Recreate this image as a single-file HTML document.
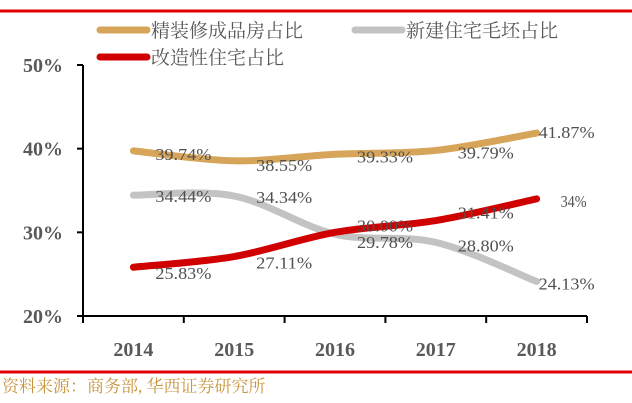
<!DOCTYPE html>
<html><head><meta charset="utf-8"><style>
body{margin:0;background:#fff;}
svg{display:block;font-family:"Liberation Serif","Noto Serif CJK SC",serif;}
</style></head><body>
<svg id="chart" width="632" height="403">
<line x1="0" y1="11" x2="632" y2="11" stroke="#E00000" stroke-width="3"/>
<line x1="0" y1="372" x2="632" y2="372" stroke="#E00000" stroke-width="3"/>
<g>
<line x1="100" y1="30" x2="147" y2="30" stroke="#D6A55A" stroke-width="7" stroke-linecap="round"/>
<text x="151" y="37" font-size="19" fill="#595959">精装修成品房占比</text>
<line x1="355" y1="30" x2="402" y2="30" stroke="#C3C3C3" stroke-width="7" stroke-linecap="round"/>
<text x="406" y="37" font-size="19" fill="#595959">新建住宅毛坯占比</text>
<line x1="100" y1="57" x2="147" y2="57" stroke="#D00000" stroke-width="7" stroke-linecap="round"/>
<text x="151" y="64" font-size="19" fill="#595959">改造性住宅占比</text>
</g>
<g id="axes"></g>
<g id="series"></g>
<g id="labels"></g>
<text x="2" y="392" font-size="17" fill="#C8963E">资料来源：商务部, 华西证券研究所</text>
</svg>
<script>
const categories=["2014","2015","2016","2017","2018"];
const finishedShare=[39.74,38.55,39.33,39.79,41.87];
const roughShare=[34.44,34.34,29.78,28.80,24.13];
const renovationShare=[25.83,27.11,30.00,31.41,34.00];
const finishedLabels=["39.74%","38.55%","39.33%","39.79%","41.87%"];
const roughLabels=["34.44%","34.34%","29.78%","28.80%","24.13%"];
const renovationLabels=["25.83%","27.11%","30.00%","31.41%","34%"];
const yTicks=[20,30,40,50];
const NS="http://www.w3.org/2000/svg";
const x0=83,x1=587,yMin=20,yMax=50,yb=316,yt=65;
const band=(x1-x0)/categories.length;
const xs=i=>x0+band*(i+0.5);
const ys=v=>yb-(v-yMin)/(yMax-yMin)*(yb-yt);
function mk(tag,attrs,parent){const e=document.createElementNS(NS,tag);for(const k in attrs)e.setAttribute(k,attrs[k]);parent.appendChild(e);return e;}
const ax=document.getElementById('axes');
let l=mk('line',{x1:x0,y1:yt,x2:x0,y2:yb+1,stroke:'#000','stroke-width':2},ax);


l=mk('line',{x1:x0-6,y1:yb,x2:x1,y2:yb,stroke:'#000','stroke-width':2},ax);


yTicks.forEach(t=>{
 const tk=mk('line',{x1:x0-6,y1:ys(t),x2:x0,y2:ys(t),stroke:'#000','stroke-width':2},ax);
 
 
 const tx=mk('text',{x:x0-20,y:ys(t)+7,'text-anchor':'end','font-size':20,'font-weight':'bold',fill:'#595959'},ax);
 tx.textContent=t+'%';
 
 
});
for(let i=0;i<=categories.length;i++){
 const tk=mk('line',{x1:x0+band*i,y1:yb,x2:x0+band*i,y2:yb+7,stroke:'#000','stroke-width':2},ax);
 
 
}
categories.forEach((c,i)=>{
 const tx=mk('text',{x:xs(i),y:yb+40,'text-anchor':'middle','font-size':20,'font-weight':'bold',fill:'#595959'},ax);
 tx.textContent=c;
 
 
});
function smooth(vals){
 const p=vals.map((v,i)=>[xs(i),ys(v)]);
 let d=`M${p[0][0]},${p[0][1]}`;
 for(let i=0;i<p.length-1;i++){
  const a=p[i-1]||p[i],b=p[i],c=p[i+1],e=p[i+2]||c;
  const c1=[b[0]+(c[0]-a[0])/6,b[1]+(c[1]-a[1])/6],c2=[c[0]-(e[0]-b[0])/6,c[1]-(e[1]-b[1])/6];
  d+=` C${c1[0]},${c1[1]} ${c2[0]},${c2[1]} ${c[0]},${c[1]}`;
 }
 return d;
}
const sg=document.getElementById('series');
const lg=document.getElementById('labels');
function series(vals,labels,color,name,dx,dy){
 const p=mk('path',{d:smooth(vals),fill:'none',stroke:color,'stroke-width':7,'stroke-linecap':'round'},sg);
 
 
 vals.forEach((v,i)=>{
  const t=mk('text',{x:xs(i)+dx[i],y:ys(v)+dy[i],'text-anchor':'start','font-size':17,fill:'#505050',textLength:labels[i].length>3?56:26,lengthAdjust:'spacingAndGlyphs'},lg);
  t.textContent=labels[i];
  
  
 });
}
series(roughShare,roughLabels,'#C3C3C3','rough',[22,22,22,22,2],[7,7,14,9,8]);
series(finishedShare,finishedLabels,'#D6A55A','finished',[22,22,22,22,2],[9,10,8,8,5]);
series(renovationShare,renovationLabels,'#D00000','renovation',[22,22,22,22,24],[12,12,-1,-2,8]);
</script>
</body></html>
